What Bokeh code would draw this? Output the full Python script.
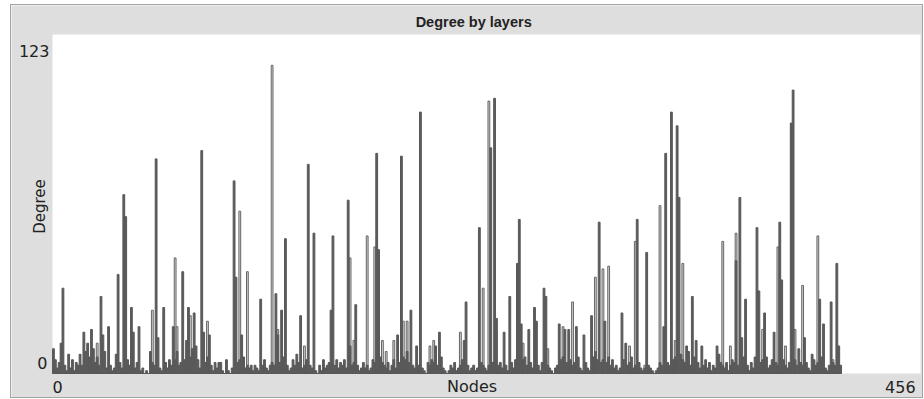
import math
from bokeh.plotting import figure
from bokeh.models import Range1d, Label
from bokeh.embed import file_html
from bokeh.resources import INLINE

# ---- data: degree of each node in two layers ----
dark_layer = [
    9, 5, 2, 4, 11, 31, 3, 1, 7, 2, 5, 1, 4, 3, 7, 3, 15, 8, 11, 6,
    16, 9, 4, 6, 3, 28, 14, 8, 2, 17, 3, 1, 2, 7, 36, 4, 2, 65, 57, 5,
    3, 24, 15, 2, 4, 17, 1, 2, 0, 1, 0, 8, 4, 3, 78, 13, 2, 1, 24, 4,
    2, 5, 3, 17, 5, 8, 3, 4, 37, 5, 12, 24, 6, 9, 22, 10, 5, 2, 81, 15,
    4, 6, 14, 3, 1, 4, 2, 4, 4, 1, 0, 5, 1, 0, 2, 70, 35, 4, 5, 14,
    6, 2, 3, 2, 3, 1, 3, 2, 1, 27, 3, 5, 2, 1, 3, 4, 3, 29, 14, 4,
    23, 6, 49, 3, 1, 2, 5, 3, 7, 4, 21, 2, 3, 5, 76, 3, 2, 51, 1, 0,
    3, 1, 5, 2, 3, 4, 23, 50, 3, 5, 2, 4, 3, 5, 2, 63, 10, 3, 4, 25,
    3, 1, 2, 4, 2, 3, 1, 2, 5, 4, 80, 45, 6, 4, 3, 2, 4, 1, 3, 5,
    2, 14, 4, 79, 6, 5, 8, 4, 23, 3, 2, 10, 3, 95, 2, 1, 0, 4, 3, 5,
    4, 10, 3, 15, 6, 2, 1, 0, 1, 3, 2, 4, 1, 2, 3, 5, 12, 26, 3, 1,
    2, 3, 1, 2, 53, 4, 3, 2, 1, 3, 82, 4, 100, 20, 3, 4, 2, 15, 3, 1,
    28, 4, 2, 5, 40, 56, 18, 5, 6, 3, 16, 4, 2, 24, 19, 3, 1, 4, 31, 28,
    3, 2, 1, 0, 2, 3, 18, 5, 6, 16, 4, 16, 5, 3, 4, 17, 6, 2, 1, 14,
    4, 2, 1, 21, 6, 8, 5, 55, 4, 5, 19, 4, 6, 3, 5, 2, 3, 1, 2, 22,
    5, 11, 3, 4, 6, 2, 3, 56, 4, 2, 1, 2, 44, 3, 2, 1, 0, 1, 2, 4,
    3, 17, 80, 4, 3, 95, 5, 6, 90, 64, 7, 5, 4, 10, 8, 3, 28, 6, 12, 4,
    2, 10, 3, 5, 2, 4, 1, 3, 2, 10, 7, 4, 3, 2, 4, 1, 3, 5, 4, 41,
    3, 64, 13, 6, 27, 3, 1, 4, 2, 6, 53, 30, 4, 5, 22, 6, 2, 3, 5, 15,
    4, 3, 55, 34, 5, 3, 2, 4, 91, 103, 5, 3, 9, 4, 3, 13, 4, 2, 1, 7,
    5, 3, 4, 27, 6, 18, 2, 1, 3, 26, 4, 3, 40, 10, 3,
]

light_layer = [
    0, 0, 0, 0, 0, 0, 0, 0, 0, 0, 0, 0, 0, 0, 0, 0, 0, 0, 0, 0,
    0, 0, 0, 11, 0, 0, 0, 0, 0, 0, 0, 0, 0, 0, 0, 0, 0, 0, 0, 0,
    0, 0, 0, 0, 0, 0, 0, 0, 0, 0, 0, 0, 23, 0, 0, 0, 0, 0, 0, 0,
    0, 0, 0, 0, 42, 17, 0, 0, 0, 0, 0, 0, 21, 0, 0, 0, 0, 0, 0, 0,
    0, 19, 0, 0, 0, 0, 0, 0, 0, 0, 0, 0, 0, 0, 0, 0, 0, 0, 59, 0,
    0, 0, 37, 0, 0, 0, 0, 0, 0, 0, 0, 0, 0, 0, 0, 112, 0, 0, 16, 0,
    0, 0, 0, 0, 0, 0, 0, 0, 0, 0, 0, 0, 10, 0, 0, 0, 0, 0, 0, 0,
    0, 0, 0, 0, 0, 0, 0, 0, 0, 0, 0, 0, 0, 0, 0, 0, 42, 0, 12, 0,
    0, 0, 0, 0, 0, 50, 0, 0, 0, 46, 0, 0, 0, 12, 0, 8, 0, 0, 0, 12,
    0, 0, 0, 0, 19, 0, 19, 0, 0, 0, 0, 0, 0, 0, 0, 0, 0, 0, 10, 0,
    12, 0, 0, 0, 0, 0, 0, 0, 0, 0, 0, 0, 0, 0, 15, 0, 0, 0, 0, 0,
    0, 0, 0, 0, 0, 0, 31, 0, 0, 99, 0, 0, 0, 0, 0, 0, 0, 0, 0, 0,
    0, 0, 0, 0, 0, 0, 0, 11, 0, 0, 0, 0, 0, 0, 0, 0, 0, 0, 0, 0,
    9, 0, 0, 0, 0, 0, 0, 0, 17, 0, 0, 0, 0, 26, 0, 0, 0, 0, 0, 0,
    0, 0, 0, 0, 0, 35, 0, 0, 0, 38, 0, 0, 39, 0, 0, 0, 0, 0, 0, 0,
    0, 0, 0, 10, 0, 0, 48, 0, 0, 0, 0, 3, 0, 0, 0, 0, 0, 0, 0, 61,
    0, 0, 0, 0, 0, 0, 0, 12, 0, 0, 0, 40, 0, 0, 0, 0, 0, 0, 0, 0,
    0, 0, 0, 0, 0, 0, 0, 0, 0, 0, 0, 0, 48, 0, 0, 0, 10, 0, 0, 51,
    0, 0, 0, 0, 0, 0, 0, 0, 0, 0, 0, 0, 0, 16, 0, 0, 0, 0, 0, 0,
    0, 46, 0, 0, 0, 10, 0, 0, 0, 0, 16, 0, 0, 0, 32, 0, 0, 0, 0, 0,
    0, 0, 50, 0, 0, 0, 0, 0, 0, 0, 5, 0, 0, 0, 0,
]

nodes = list(range(len(dark_layer)))
x_ticks = ["0", "456"]
y_ticks = ["0", "123"]
x_max = 456.5
y_max = 123.2

# frame covers the whole canvas; data extents chosen so that the
# value area 0..x_max / 0..y_max lands where the reference plot area is
p = figure(width=911, height=392,
           x_range=Range1d(-21.56, 457.55), y_range=Range1d(-8.72, 133.74),
           output_backend="svg", toolbar_location=None,
           x_axis_location=None, y_axis_location=None,
           min_border=0, min_border_left=0, min_border_right=0,
           min_border_top=0, min_border_bottom=0,
           border_fill_color="#dedede", background_fill_color="#dedede",
           outline_line_color=None)
p.margin = (5, 2, 2, 11)
p.styles = {"box-shadow": "0 0 0 1px #a3a3a3"}
p.xgrid.visible = False
p.ygrid.visible = False

# white value area
p.quad(left=[0], right=[x_max], bottom=[0], top=[y_max],
       fill_color="white", line_color=None)

xs = [n + 0.5 for n in nodes]
p.vbar(x=xs, top=light_layer, bottom=0, width=0.95,
       fill_color="#d2d2d2", line_color="#666666", line_width=1)
p.vbar(x=xs, top=dark_layer, bottom=0, width=0.95,
       fill_color="#5c5c5c", line_color="#585858", line_width=1)

font = "DejaVu Sans"
col = "#222222"
def lab(x, y, t, align, size="16px", angle=0.0, fnt=font, style="normal"):
    p.add_layout(Label(x=x, y=y, text=t, text_align=align, text_baseline="middle",
                       text_font=fnt, text_font_size=size, text_color=col,
                       angle=angle, text_font_style=style))

lab(-1.6, 117.2, y_ticks[1], "right")
lab(-2.6, 3.8, y_ticks[0], "right")
lab(0.0, -4.9, x_ticks[0], "left")
lab(453.9, -4.9, x_ticks[1], "right")
lab(220.7, -4.9, "Nodes", "center")
lab(-6.6, 60.7, "Degree", "center", size="15px", angle=math.pi / 2)
lab(221.5, 127.7, "Degree by layers", "center", size="14.5px",
    fnt="Liberation Sans", style="bold")

open("out.html", "w").write(file_html(p, INLINE))
